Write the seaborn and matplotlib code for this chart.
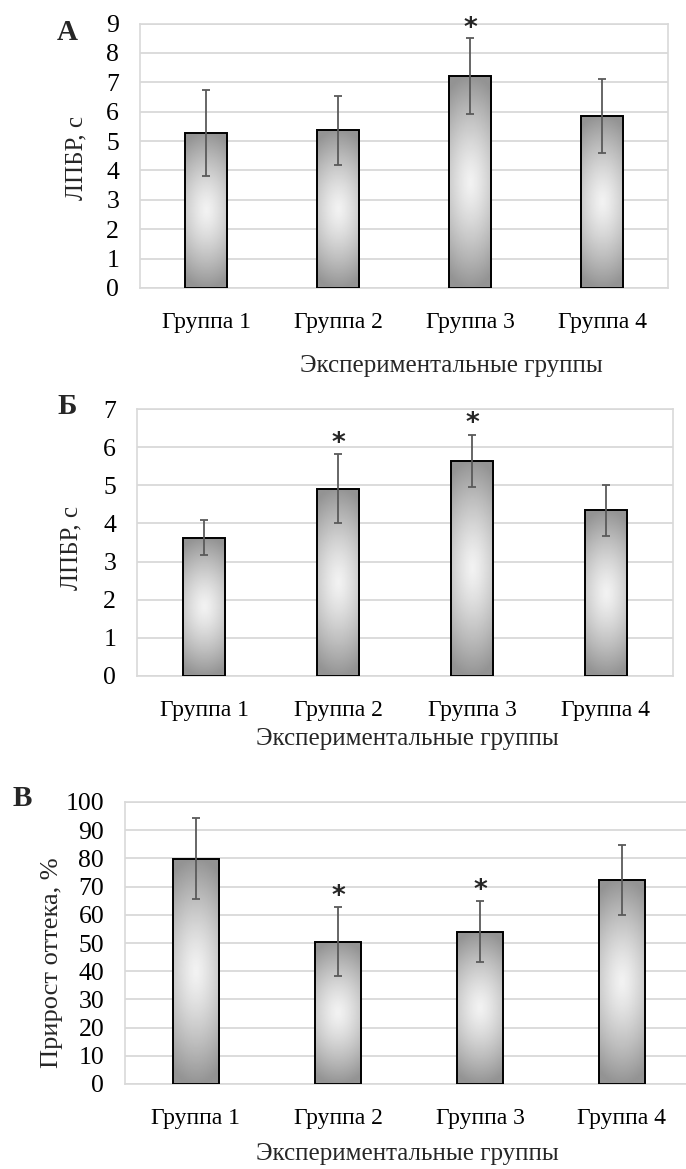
import numpy as np
import pandas as pd
import matplotlib
matplotlib.use("Agg")
import matplotlib.pyplot as plt
import seaborn as sns

groups = ["Группа 1", "Группа 2", "Группа 3", "Группа 4"]

lpbr_a = [5.28, 5.37, 7.21, 5.86]
lpbr_a_err = [1.47, 1.18, 1.30, 1.26]
star_a = [False, False, True, False]

lpbr_b = [3.63, 4.91, 5.64, 4.35]
lpbr_b_err = [0.47, 0.90, 0.68, 0.67]
star_b = [False, True, True, False]

edema_c = [79.9, 50.4, 54.0, 72.5]
edema_c_err = [14.4, 12.2, 10.8, 12.4]
star_c = [False, True, True, False]

panel_letters = ["А", "Б", "В"]
ylabels = ["ЛПБР, с", "ЛПБР, с", "Прирост оттека, %"]
xlabel = "Экспериментальные группы"
yticks_a = list(range(0, 10))
yticks_b = list(range(0, 8))
yticks_c = list(range(0, 101, 10))

sns.set_theme(style="white")
plt.rcParams["font.family"] = ["Liberation Serif", "DejaVu Serif"]

W, H = 686, 1169
fig = plt.figure(figsize=(W / 100, H / 100), dpi=100)


def frac_rect(left, top, right, bottom):
    return [left / W, 1 - bottom / H, (right - left) / W, (bottom - top) / H]


# gradient image used for bar fills
ny, nx = 200, 60
yy, xx = np.mgrid[0:1:ny * 1j, 0:1:nx * 1j]
t = np.abs(yy - 0.5) * 2
s = np.abs(xx - 0.5) * 2
d = np.clip(np.sqrt(t ** 2 + 0.25 * s ** 2), 0, 1)
grad = 0.95 - (0.95 - 0.58) * d ** 1.3

panels = [
    dict(vals=lpbr_a, errs=lpbr_a_err, stars=star_a, ticks=yticks_a, rect=(140, 23.5, 668, 288),
         star_off=0.30, ylab_xy=(76, 158), ylab_fs=18, letter_xy=(67, 32), xlab_xy=(451, 366)),
    dict(vals=lpbr_b, errs=lpbr_b_err, stars=star_b, ticks=yticks_b, rect=(137, 409, 673, 676),
         star_off=0.28, ylab_xy=(71, 548), ylab_fs=18, letter_xy=(67, 406), xlab_xy=(407, 739)),
    dict(vals=edema_c, errs=edema_c_err, stars=star_c, ticks=yticks_c, rect=(125, 802, 693, 1084),
         star_off=3.6, ylab_xy=(52, 963), ylab_fs=19, letter_xy=(22, 798), xlab_xy=(407, 1154)),
]

for i, p in enumerate(panels):
    ax = fig.add_axes(frac_rect(*p["rect"]))
    df = pd.DataFrame({"group": groups, "value": p["vals"]})
    sns.barplot(data=df, x="group", y="value", ax=ax, width=0.32, color="#bbbbbb",
                edgecolor="black", linewidth=1.4, errorbar=None, zorder=3)
    ymax = p["ticks"][-1]
    for patch in ax.patches:
        x0, y0 = patch.get_x(), patch.get_y()
        w, h = patch.get_width(), patch.get_height()
        patch.set_facecolor("none")
        patch.set_zorder(3)
        im = ax.imshow(grad, extent=[x0, x0 + w, y0, y0 + h], origin="upper",
                       aspect="auto", cmap="gray", vmin=0, vmax=1, zorder=2.5,
                       interpolation="bilinear")
        im.set_clip_path(patch)
    xs = np.arange(len(groups))
    ax.errorbar(xs, p["vals"], yerr=p["errs"], fmt="none", ecolor="#5a5a5a",
                elinewidth=1.3, capsize=3, capthick=1.3, zorder=4)
    for x, v, e, st in zip(xs, p["vals"], p["errs"], p["stars"]):
        if st:
            ax.text(x, v + e + p["star_off"], "*", ha="center", va="center",
                    fontsize=19, fontweight="bold", family="DejaVu Sans", zorder=5)
    ax.set_xlim(-0.5, len(groups) - 0.5)
    ax.set_ylim(0, ymax)
    ax.set_yticks(p["ticks"])
    ax.yaxis.grid(True, color="#d9d9d9", linewidth=1.3)
    ax.set_axisbelow(True)
    for sp in ax.spines.values():
        sp.set_color("#d9d9d9")
        sp.set_linewidth(1.2)
    ax.tick_params(axis="both", length=0, colors="black")
    ax.tick_params(axis="x", pad=17, labelsize=17)
    ax.tick_params(axis="y", pad=15, labelsize=18.5)
    ax.set_xlabel("")
    ax.set_ylabel("")
    lx, ly = p["ylab_xy"]
    fig.text(lx / W, 1 - ly / H, ylabels[i], rotation=90, ha="center", va="center",
             fontsize=p["ylab_fs"])
    cx, cy = p["letter_xy"]
    fig.text(cx / W, 1 - cy / H, panel_letters[i], ha="center", va="center",
             fontsize=21, fontweight="bold")
    xx_, xy_ = p["xlab_xy"]
    fig.text(xx_ / W, 1 - xy_ / H, xlabel, ha="center", va="center", fontsize=18)

fig.savefig("out.png", dpi=100)
